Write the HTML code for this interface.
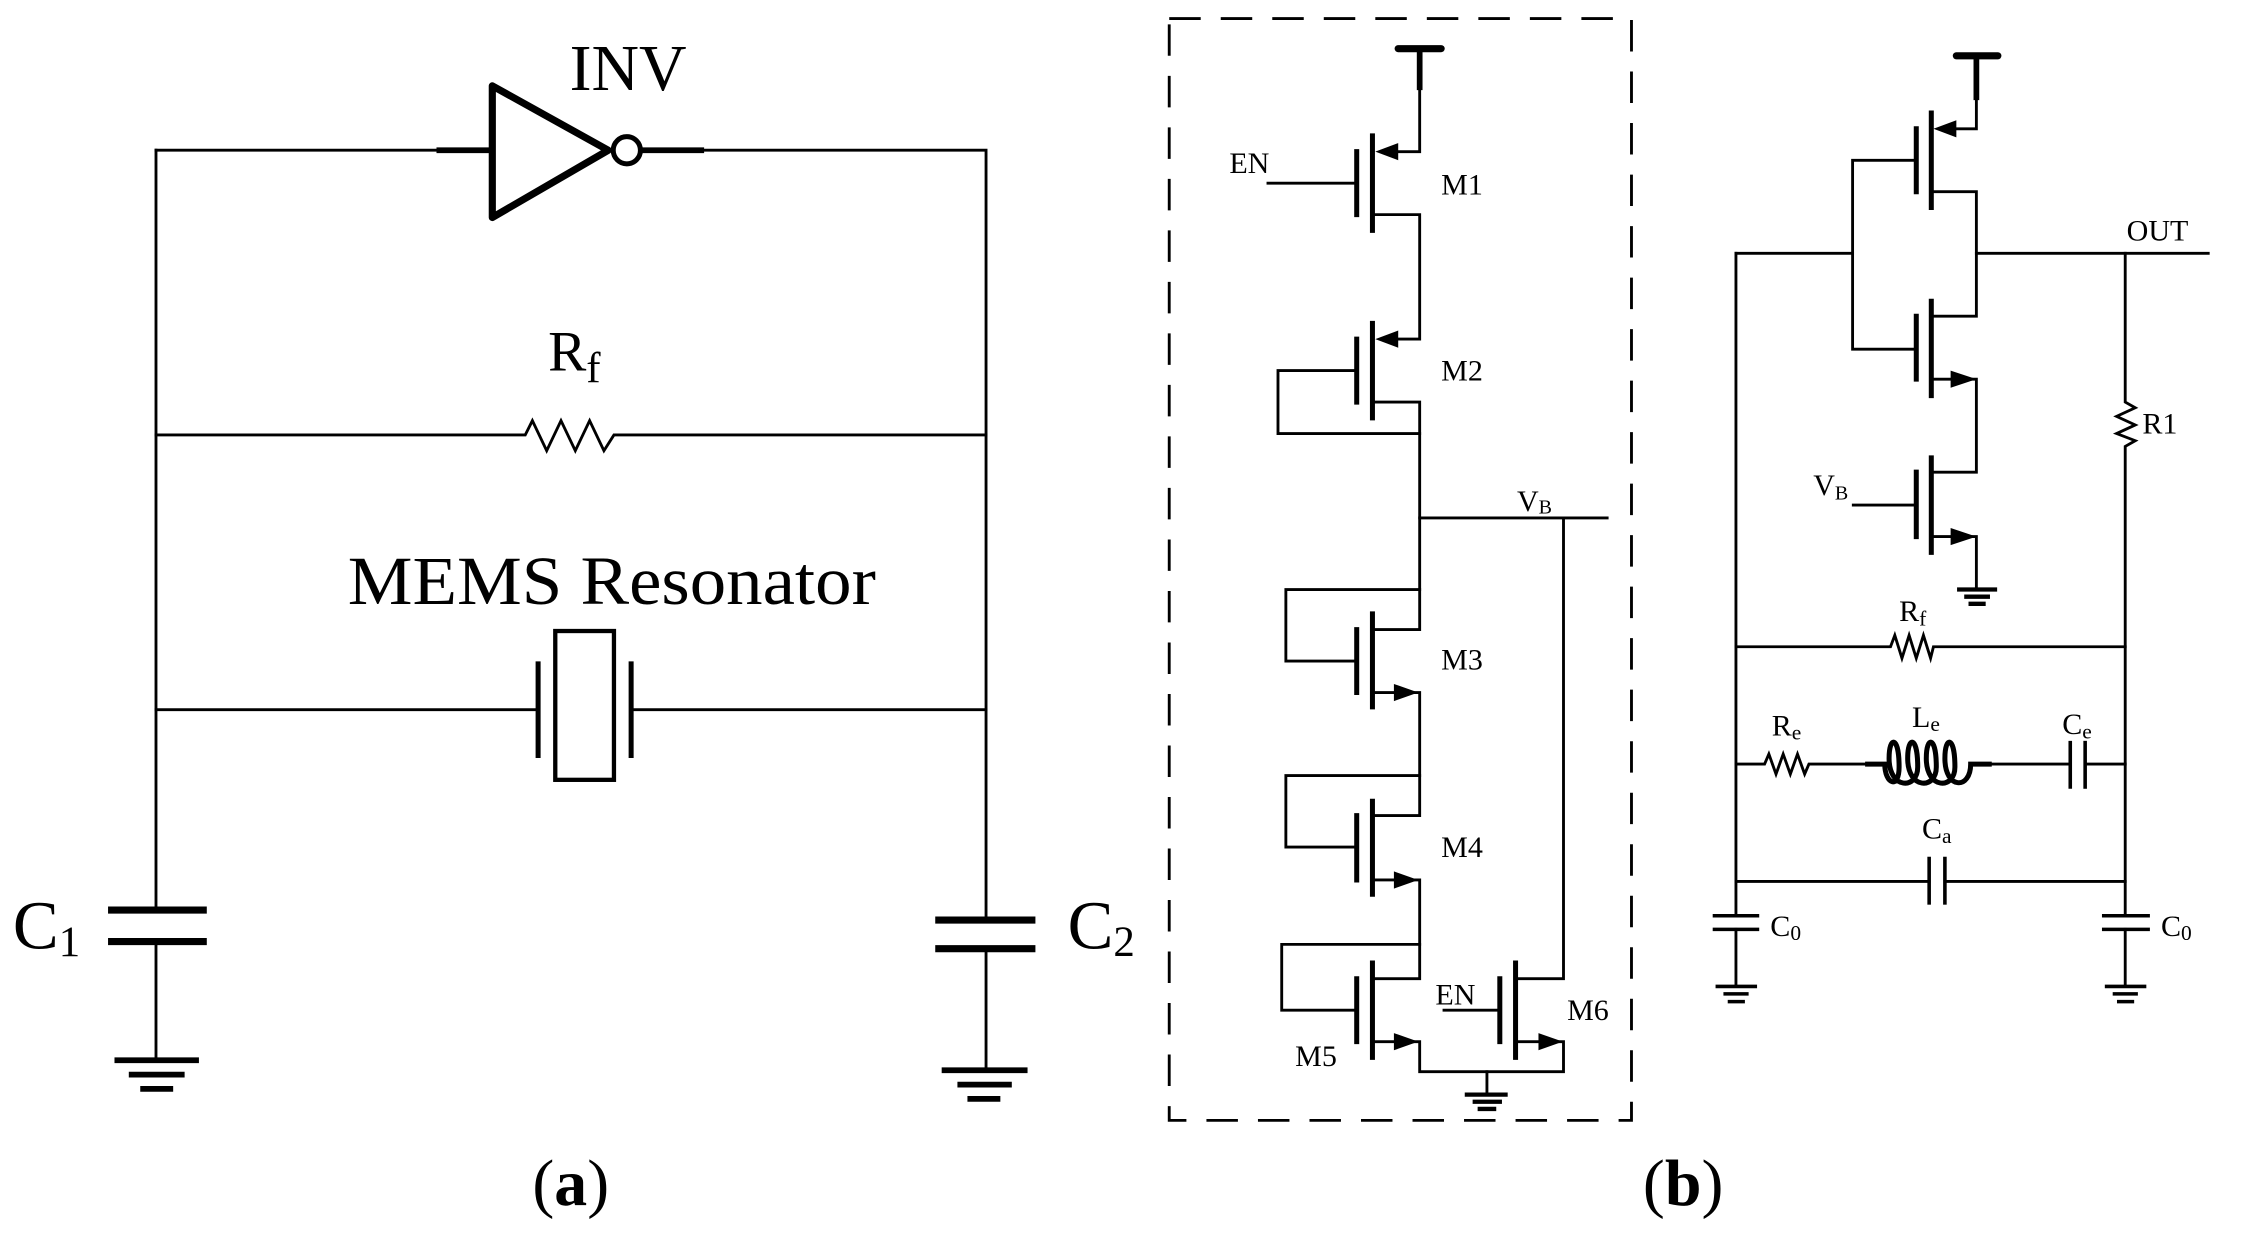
<!DOCTYPE html>
<html><head><meta charset="utf-8"><style>
html,body{margin:0;padding:0;background:#fff}
svg{display:block}
text{font-family:"Liberation Serif",serif;fill:#000}
</style></head><body>
<svg width="2244" height="1242" viewBox="0 0 1568 868" preserveAspectRatio="none" xmlns="http://www.w3.org/2000/svg">
<g stroke="#000" stroke-width="2" fill="none" stroke-linecap="square">
<!-- ===== (a) ===== -->
<polyline points="109,105 307,105"/>
<line x1="307" y1="105" x2="344" y2="105" stroke-width="4"/>
<polygon points="344,60 344,152 425,105" stroke-width="5" stroke-linejoin="round"/>
<circle cx="438" cy="105" r="9.5" stroke-width="3.5"/>
<line x1="448" y1="105" x2="490" y2="105" stroke-width="4"/>
<polyline points="490,105 689,105 689,643"/>
<line x1="109" y1="105" x2="109" y2="636"/>
<polyline points="109,304 367,304 372,294 382,315 392,294 402,315 412,294 422,315 429,304 689,304"/>
<line x1="109" y1="496" x2="376" y2="496"/>
<line x1="441" y1="496" x2="689" y2="496"/>
<line x1="376" y1="464" x2="376" y2="528" stroke-width="3.5"/>
<line x1="441" y1="464" x2="441" y2="528" stroke-width="3.5"/>
<rect x="388" y="441" width="41" height="104" stroke-width="3"/>
<line x1="78" y1="636" x2="142" y2="636" stroke-width="5"/>
<line x1="78" y1="658" x2="142" y2="658" stroke-width="5"/>
<line x1="109" y1="658" x2="109" y2="741"/>
<line x1="82" y1="741" x2="137" y2="741" stroke-width="4"/>
<line x1="92" y1="751" x2="127" y2="751" stroke-width="4"/>
<line x1="100" y1="761" x2="119" y2="761" stroke-width="4"/>
<line x1="656" y1="643" x2="721" y2="643" stroke-width="5"/>
<line x1="656" y1="663" x2="721" y2="663" stroke-width="5"/>
<line x1="689" y1="663" x2="689" y2="748"/>
<line x1="660" y1="748" x2="716" y2="748" stroke-width="4"/>
<line x1="671" y1="758" x2="705" y2="758" stroke-width="4"/>
<line x1="678" y1="768" x2="697" y2="768" stroke-width="4"/>

<!-- ===== (b) box ===== -->
<rect x="817" y="13" width="323" height="770" stroke-width="2" stroke-dasharray="22,14" stroke-linecap="butt"/>
<line x1="977" y1="34" x2="1007" y2="34" stroke-width="5" stroke-linecap="round"/>
<line x1="992" y1="34" x2="992" y2="61" stroke-width="4"/>
<!-- M1 -->
<polyline points="992,61 992,106 975,106"/>
<line x1="959" y1="95" x2="959" y2="161" stroke-width="3.5"/>
<line x1="948" y1="106" x2="948" y2="150" stroke-width="3.5"/>
<line x1="886" y1="128" x2="948" y2="128"/>
<polyline points="959,150 992,150 992,237 975,237"/>
<!-- M2 -->
<line x1="959" y1="226" x2="959" y2="292" stroke-width="3.5"/>
<line x1="948" y1="237" x2="948" y2="281" stroke-width="3.5"/>
<polyline points="948,259 893,259 893,303 992,303"/>
<polyline points="959,281 992,281 992,440 959,440"/>
<!-- VB -->
<line x1="992" y1="362" x2="1123" y2="362"/>
<polyline points="1092.5,362 1092.5,684 1059,684"/>
<!-- M3 -->
<polyline points="992,412 898.5,412 898.5,462 948,462"/>
<line x1="959" y1="429" x2="959" y2="494" stroke-width="3.5"/>
<line x1="948" y1="440" x2="948" y2="484" stroke-width="3.5"/>
<polyline points="959,484 992,484 992,570 959,570"/>
<!-- M4 -->
<polyline points="992,542 898.5,542 898.5,592 948,592"/>
<line x1="959" y1="560" x2="959" y2="625" stroke-width="3.5"/>
<line x1="948" y1="570" x2="948" y2="615" stroke-width="3.5"/>
<polyline points="959,615 992,615 992,684 959,684"/>
<!-- M5 -->
<polyline points="992,660 895.6,660 895.6,706 948,706"/>
<line x1="959" y1="673" x2="959" y2="739" stroke-width="3.5"/>
<line x1="948" y1="684" x2="948" y2="728" stroke-width="3.5"/>
<polyline points="959,728 992,728 992,749 1092.5,749 1092.5,728 1059,728"/>
<!-- M6 -->
<line x1="1059" y1="673" x2="1059" y2="739" stroke-width="3.5"/>
<line x1="1048" y1="684" x2="1048" y2="728" stroke-width="3.5"/>
<line x1="1009" y1="706" x2="1048" y2="706"/>
<line x1="1039" y1="749" x2="1039" y2="765"/>
<line x1="1025" y1="765" x2="1052" y2="765" stroke-width="3"/>
<line x1="1030.5" y1="770" x2="1048" y2="770" stroke-width="3"/>
<line x1="1034" y1="775" x2="1044" y2="775" stroke-width="3"/>

<!-- ===== right circuit ===== -->
<line x1="1367" y1="39" x2="1396" y2="39" stroke-width="5" stroke-linecap="round"/>
<line x1="1381" y1="39" x2="1381" y2="68" stroke-width="4"/>
<polyline points="1381,68 1381,90 1366,90"/>
<line x1="1349.5" y1="79" x2="1349.5" y2="145" stroke-width="3.5"/>
<line x1="1339" y1="90" x2="1339" y2="134" stroke-width="3.5"/>
<polyline points="1339,112 1294.5,112 1294.5,244 1339,244"/>
<polyline points="1349.5,134 1381,134 1381,221 1349.5,221"/>
<line x1="1213" y1="177" x2="1294.5" y2="177"/>
<line x1="1381" y1="177" x2="1543" y2="177"/>
<line x1="1349.5" y1="210.5" x2="1349.5" y2="276.5" stroke-width="3.5"/>
<line x1="1339" y1="221" x2="1339" y2="265" stroke-width="3.5"/>
<polyline points="1349.5,265 1381,265 1381,330 1349.5,330"/>
<line x1="1349.5" y1="320" x2="1349.5" y2="386" stroke-width="3.5"/>
<line x1="1339" y1="330" x2="1339" y2="375" stroke-width="3.5"/>
<line x1="1295" y1="353" x2="1339" y2="353"/>
<polyline points="1349.5,375 1381,375 1381,412"/>
<line x1="1369" y1="412" x2="1394" y2="412" stroke-width="3"/>
<line x1="1374" y1="417" x2="1389" y2="417" stroke-width="3"/>
<line x1="1377" y1="422" x2="1386" y2="422" stroke-width="3"/>
<!-- rails -->
<polyline points="1213,177 1213,640"/>
<polyline points="1485,177 1485,281 1492,285 1479,291 1492,297 1479,303 1492,308 1485,312 1485,640"/>
<polyline points="1213,452 1321,452 1324,444 1329,460 1334,444 1339,460 1344,444 1349,460 1351,452 1485,452"/>
<polyline points="1213,534 1233,534 1236,527 1241,541 1246,527 1251,541 1256,527 1261,541 1264,534 1305,534"/>
<path d="M1305,534 H1317 C1317,548 1327,552 1327,536 C1327,514 1320,514 1320,530 C1320,552 1340,552 1340,536 C1340,514 1333,514 1333,530 C1333,552 1353,552 1353,536 C1353,514 1346,514 1346,530 C1346,552 1366,552 1366,536 C1366,514 1359,514 1359,530 C1359,552 1377,552 1377,534 H1390" stroke-width="3.5"/>
<line x1="1390" y1="534" x2="1446.6" y2="534"/>
<line x1="1457" y1="534" x2="1485" y2="534"/>
<line x1="1446.6" y1="519" x2="1446.6" y2="550" stroke-width="2.5"/>
<line x1="1457" y1="519" x2="1457" y2="550" stroke-width="2.5"/>
<line x1="1213" y1="616" x2="1348" y2="616"/>
<line x1="1359" y1="616" x2="1485" y2="616"/>
<line x1="1348" y1="600" x2="1348" y2="631" stroke-width="2.5"/>
<line x1="1359" y1="600" x2="1359" y2="631" stroke-width="2.5"/>
<line x1="1198" y1="640" x2="1228" y2="640" stroke-width="2.5"/>
<line x1="1198" y1="649.5" x2="1228" y2="649.5" stroke-width="2.5"/>
<line x1="1213" y1="649.5" x2="1213" y2="689"/>
<line x1="1200" y1="689.4" x2="1226.5" y2="689.4" stroke-width="2.5"/>
<line x1="1205.5" y1="694.6" x2="1220.6" y2="694.6" stroke-width="2.5"/>
<line x1="1208.5" y1="700" x2="1218" y2="700" stroke-width="2.5"/>
<line x1="1470" y1="640" x2="1501" y2="640" stroke-width="2.5"/>
<line x1="1470" y1="649.5" x2="1501" y2="649.5" stroke-width="2.5"/>
<line x1="1485" y1="649.5" x2="1485" y2="689"/>
<line x1="1472" y1="689.4" x2="1498.5" y2="689.4" stroke-width="2.5"/>
<line x1="1477.5" y1="694.6" x2="1492.6" y2="694.6" stroke-width="2.5"/>
<line x1="1480.5" y1="700" x2="1490" y2="700" stroke-width="2.5"/>
</g>
<!-- arrowheads -->
<g fill="#000">
<polygon points="961,106 977,100 977,112"/>
<polygon points="961,237 977,231 977,243"/>
<polygon points="991,484 974,478 974,490"/>
<polygon points="991,615 974,609 974,621"/>
<polygon points="991,728 974,722 974,734"/>
<polygon points="1092,728 1075,722 1075,734"/>
<polygon points="1351,90 1367,84 1367,96"/>
<polygon points="1381,265 1363,259 1363,271"/>
<polygon points="1381,375 1363,369 1363,381"/>
</g>
<!-- text (a) -->
<text x="398" y="63" font-size="46">INV</text>
<text x="383" y="259" font-size="40">R<tspan font-size="30" dy="8">f</tspan></text>
<text x="243" y="422" font-size="48" textLength="369" lengthAdjust="spacingAndGlyphs">MEMS Resonator</text>
<text x="9" y="663" font-size="48">C<tspan font-size="30" dy="5">1</tspan></text>
<text x="746" y="663" font-size="48">C<tspan font-size="30" dy="5">2</tspan></text>
<text x="372" y="842" font-size="46">(<tspan font-weight="bold">a</tspan>)</text>
<text x="1148" y="842" font-size="46">(<tspan font-weight="bold">b</tspan>)</text>
<!-- text (b) -->
<g font-size="21">
<text x="859" y="121">EN</text>
<text x="1007" y="136">M1</text>
<text x="1007" y="266">M2</text>
<text x="1060" y="357">V<tspan font-size="14" dy="2">B</tspan></text>
<text x="1007" y="468">M3</text>
<text x="1007" y="599">M4</text>
<text x="905" y="745">M5</text>
<text x="1003" y="702">EN</text>
<text x="1095" y="713">M6</text>
<text x="1486" y="168">OUT</text>
<text x="1497" y="303">R1</text>
<text x="1267" y="346">V<tspan font-size="14" dy="3">B</tspan></text>
<text x="1327" y="434">R<tspan font-size="15" dy="3">f</tspan></text>
<text x="1238" y="514">R<tspan font-size="15" dy="3">e</tspan></text>
<text x="1336" y="508">L<tspan font-size="15" dy="3">e</tspan></text>
<text x="1441" y="513">C<tspan font-size="15" dy="3">e</tspan></text>
<text x="1343" y="586">C<tspan font-size="15" dy="3">a</tspan></text>
<text x="1237" y="654">C<tspan font-size="15" dy="3">0</tspan></text>
<text x="1510" y="654">C<tspan font-size="15" dy="3">0</tspan></text>
</g>
</svg>
</body></html>
